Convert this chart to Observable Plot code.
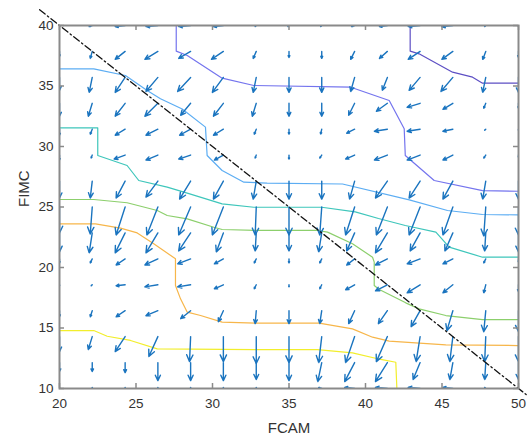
<!DOCTYPE html>
<html>
<head>
<meta charset="utf-8">
<script src="https://cdn.jsdelivr.net/npm/d3@7"></script>
<script src="https://cdn.jsdelivr.net/npm/@observablehq/plot@0.6"></script>
<style>
  html, body { margin: 0; padding: 0; background: #fff; }
</style>
</head>
<body>
<div id="chart"></div>
<script>
// Sampling grid of the flow field (FCAM across, FIMC from top row to bottom row)
const gridX = [20, 22.14, 24.29, 26.43, 28.57, 30.71, 32.86, 35, 37.14, 39.29, 41.43, 43.57, 45.71, 47.86, 50];
const gridY = [40, 37.86, 35.71, 33.57, 31.43, 29.29, 27.14, 25, 22.86, 20.71, 18.57, 16.43, 14.29, 12.14, 10];

// Field components in axis units, one row per gridY value
const U = [
  [0, -0.2, -0.65, -0.78, -0.78, -0.65, -0.07, -0.07, -0.07, -0.2, -0.52, -0.78, -0.72, -0.07, 0],
  [0, -0.13, -0.65, -0.85, -0.78, -0.78, -0.2, 0, 0, -0.26, -0.52, -0.78, -0.72, -0.2, 0],
  [0, -0.2, -0.65, -0.78, -0.85, -0.72, -0.2, 0, 0, -0.26, -0.33, -0.72, -0.78, -0.2, 0],
  [0, -0.26, -0.65, -0.85, -0.65, -0.65, -0.26, 0, 0, -0.39, -0.72, -0.85, -0.65, -0.13, 0],
  [0, -0.13, -0.65, -0.78, -0.72, -0.65, -0.13, 0, -0.07, -0.52, -0.85, -0.85, -0.65, -0.07, 0],
  [0, -0.07, -0.72, -0.78, -0.78, -0.59, -0.07, 0, -0.13, -0.59, -0.85, -0.85, -0.65, -0.13, 0],
  [0, -0.13, -0.59, -0.78, -0.72, -0.65, -0.2, 0, 0, -0.33, -0.78, -0.72, -0.65, -0.2, 0],
  [0, -0.13, -0.59, -0.72, -0.78, -0.72, -0.07, 0, -0.13, -0.59, -0.72, -0.72, -0.65, -0.13, 0],
  [0, -0.2, -0.65, -0.78, -0.78, -0.46, -0.07, 0, -0.2, -0.52, -0.78, -0.65, -0.52, -0.07, 0],
  [0, -0.13, -0.59, -0.85, -0.85, -0.59, -0.13, 0, -0.13, -0.52, -0.78, -0.85, -0.65, -0.13, 0],
  [0, -0.07, -0.59, -0.85, -0.85, -0.59, -0.13, 0, -0.13, -0.59, -0.78, -0.85, -0.65, -0.13, 0],
  [0, -0.13, -0.59, -0.78, -0.65, -0.33, -0.07, 0, -0.13, -0.39, -0.59, -0.59, -0.39, -0.13, 0],
  [0, -0.26, -0.65, -0.59, -0.07, 0, 0, 0, -0.2, -0.59, -0.72, -0.26, -0.2, -0.07, 0],
  [0, 0, 0, 0, 0, 0, 0, 0, -0.26, -0.65, -0.78, -0.46, -0.2, -0.07, 0],
  [0, 0, 0, 0, 0, 0, 0, 0, -0.2, -0.65, -0.78, -0.78, -0.65, -0.07, 0]
];
const V = [
  [-0.08, -0.08, -0.08, -0.08, -0.08, -0.08, -0.08, -0.08, -0.08, -0.08, -0.08, -0.08, -0.08, -0.08, -0.08],
  [-0.41, -0.58, -0.66, -0.66, -0.58, -0.66, -0.58, -0.5, -0.58, -0.66, -0.58, -0.66, -0.66, -0.66, -0.5],
  [-1.07, -1.24, -1.24, -1.16, -1.16, -1.24, -1.24, -1.24, -1.24, -1.16, -1.07, -1.07, -1.16, -1.24, -1.24],
  [-1.07, -1.07, -1.07, -1.07, -0.99, -1.07, -1.07, -1.07, -1.07, -0.99, -0.66, -0.33, -0.5, -0.41, -0.41],
  [-0.5, -0.41, -0.5, -0.5, -0.5, -0.5, -0.41, -0.41, -0.41, -0.33, -0.17, -0.17, -0.17, -0.08, -0.08],
  [-0.41, -0.25, -0.33, -0.41, -0.33, -0.41, -0.25, -0.33, -0.25, -0.33, -0.41, -0.41, -0.41, -0.25, -0.17],
  [-1.4, -1.4, -1.4, -1.32, -1.49, -1.49, -1.49, -1.49, -1.49, -1.49, -1.4, -1.4, -1.49, -1.49, -1.49],
  [-2.15, -2.23, -2.31, -2.31, -2.31, -2.31, -2.31, -2.31, -2.31, -2.31, -2.31, -2.31, -2.31, -2.4, -2.31],
  [-1.57, -1.65, -1.65, -1.65, -1.49, -1.57, -1.49, -1.49, -1.57, -1.49, -1.65, -1.49, -1.49, -1.49, -1.57],
  [-0.33, -0.33, -0.5, -0.5, -0.41, -0.41, -0.33, -0.33, -0.33, -0.5, -0.5, -0.41, -0.41, -0.33, -0.25],
  [-0.08, -0.08, -0.08, -0.17, -0.17, -0.33, -0.33, -0.17, -0.33, -0.41, -0.5, -0.66, -0.66, -0.66, -0.58],
  [-0.5, -0.5, -0.5, -0.41, -0.66, -0.91, -1.07, -1.07, -1.07, -1.07, -1.07, -1.32, -1.65, -1.74, -1.74],
  [-1.24, -1.07, -1.24, -1.65, -2.07, -2.07, -2.23, -2.15, -2.15, -2.15, -2.07, -2.07, -2.07, -2.07, -2.07],
  [-0.74, -0.74, -0.83, -1.49, -1.49, -1.49, -1.4, -1.49, -1.57, -1.57, -1.57, -1.4, -1.4, -1.4, -1.4],
  [0.08, 0.08, 0.08, 0.08, 0.08, 0.08, 0.08, 0.08, 0.08, 0.08, 0.08, 0.08, 0.08, 0.08, 0.08]
];

// Contour lines, highest level first: [FCAM, FIMC] vertices
const contour1 = [[42.92, 40], [42.92, 37.88], [43.5, 37.66], [45.69, 36.14], [47.0, 35.73], [47.65, 35.23], [50, 35.23]];
const contour2 = [[27.63, 40], [27.63, 37.88], [28.35, 37.52], [30.63, 35.65], [32.7, 35.04], [39.04, 34.9], [41.55, 33.8], [42.53, 31.46], [42.6, 29.26], [44.49, 27.19], [47.65, 26.36], [50, 26.3]];
const contour3 = [[20, 36.42], [22.24, 36.42], [24.31, 35.87], [25.73, 34.63], [26.6, 33.94], [28.02, 33.1], [29.54, 31.6], [29.65, 29.26], [30.63, 28.02], [32.05, 27.05], [33.57, 26.97], [38.5, 26.9], [42.86, 25.59], [45.36, 24.71], [47.65, 24.38], [50, 24.35]];
const contour4 = [[20, 31.54], [22.5, 31.54], [22.5, 29.26], [24.42, 28.43], [25.18, 27.19], [27.04, 26.64], [28.35, 26.15], [30.63, 25.26], [32.7, 24.98], [37.14, 24.98], [39.33, 24.6], [40.85, 24.05], [42.6, 23.47], [44.6, 22.92], [45.47, 21.68], [47.65, 20.85], [50, 20.85]];
const contour5 = [[20, 25.62], [22.24, 25.62], [24.42, 25.35], [26.39, 24.71], [27.04, 24.3], [28.35, 24.02], [30.09, 23.33], [30.63, 23.14], [32.8, 23.06], [36.86, 23.06], [37.52, 22.92], [39.15, 21.96], [40.46, 20.85], [40.57, 20.44], [40.57, 18.51], [40.9, 18.18], [42.63, 17.08], [43.5, 16.58], [45.25, 16.03], [47.65, 15.7], [50, 15.7]];
const contour6 = [[20, 23.61], [22.35, 23.61], [23.99, 23.25], [25.08, 22.86], [26.16, 21.96], [27.58, 20.72], [27.58, 18.51], [27.91, 17.41], [28.35, 16.31], [29.22, 16.03], [30.63, 15.48], [32.8, 15.4], [36.97, 15.4], [39.15, 14.93], [40.46, 14.24], [41.55, 13.91], [45.25, 13.61], [50, 13.55]];
const contour7 = [[20, 14.79], [22.24, 14.79], [23.12, 14.32], [24.64, 13.97], [26.39, 13.28], [32.8, 13.22], [36.86, 13.22], [39.15, 12.95], [41.0, 12.4], [41.98, 12.17], [42.05, 10]];
const contourColors = ["#5d4fc4", "#7474ee", "#5cadf3", "#3ec6bb", "#8ccf6c", "#f7b64a", "#f2ee2c"];

// Reference line FCAM + FIMC = 60, drawn a little past both axes
const diagonalFcam = [18.7, 50.5];
const diagonalSum = 60;

const xTicks = [20, 25, 30, 35, 40, 45, 50];
const yTicks = [10, 15, 20, 25, 30, 35, 40];

const vectors = [];
gridY.forEach((y, j) => gridX.forEach((x, i) => {
  vectors.push({x1: x, y1: y, x2: x + U[j][i], y2: y + V[j][i]});
}));

const contours = [contour1, contour2, contour3, contour4, contour5, contour6, contour7];
const diagonal = diagonalFcam.map(x => ({x, y: diagonalSum - x}));

const width = 532, height = 435;
const margin = {top: 25, right: 14, bottom: 47, left: 59};
const innerW = width - margin.left - margin.right;
const innerH = height - margin.top - margin.bottom;
const tickLen = 5;

const frameGray = "#8a8a8a";
const textGray = "#333";

const chart = Plot.plot({
  width,
  height,
  marginLeft: margin.left,
  marginRight: margin.right,
  marginTop: margin.top,
  marginBottom: margin.bottom,
  style: {fontFamily: "'Liberation Sans', Arial, sans-serif", fontSize: "13.5px", background: "#fff", color: textGray},
  x: {domain: [20, 50]},
  y: {domain: [10, 40]},
  marks: [
    ...contours.map((pts, k) => Plot.line(pts, {x: d => d[0], y: d => d[1], stroke: contourColors[k], strokeWidth: 1.2, clip: true})),
    Plot.arrow(vectors, {x1: "x1", y1: "y1", x2: "x2", y2: "y2", stroke: "#1a74bf", strokeWidth: 1.4, headAngle: 50, headLength: 8, clip: true}),
    Plot.line(diagonal, {x: "x", y: "y", stroke: "#111", strokeWidth: 1.3, strokeDasharray: "7,3,1.5,3"}),
    // inward tick marks on all four sides of the box
    Plot.ruleX(xTicks, {x: d => d, insetTop: innerH - tickLen, stroke: frameGray, strokeWidth: 1.5}),
    Plot.ruleX(xTicks, {x: d => d, insetBottom: innerH - tickLen, stroke: frameGray, strokeWidth: 1.5}),
    Plot.ruleY(yTicks, {y: d => d, insetRight: innerW - tickLen, stroke: frameGray, strokeWidth: 1.5}),
    Plot.ruleY(yTicks, {y: d => d, insetLeft: innerW - tickLen, stroke: frameGray, strokeWidth: 1.5}),
    Plot.frame({stroke: frameGray, strokeWidth: 2}),
    Plot.axisX(xTicks, {anchor: "bottom", tickSize: 0, tickPadding: 10, fill: textGray, label: null}),
    Plot.axisY(yTicks, {anchor: "left", tickSize: 0, tickPadding: 6, fill: textGray, label: null}),
    Plot.text(["FCAM"], {frameAnchor: "bottom", dy: 44, lineAnchor: "bottom", fontSize: 15, fill: textGray}),
    Plot.text(["FIMC"], {frameAnchor: "left", dx: -31, rotate: -90, lineAnchor: "bottom", fontSize: 15, fill: textGray})
  ]
});
document.getElementById("chart").appendChild(chart);
</script>
</body>
</html>
